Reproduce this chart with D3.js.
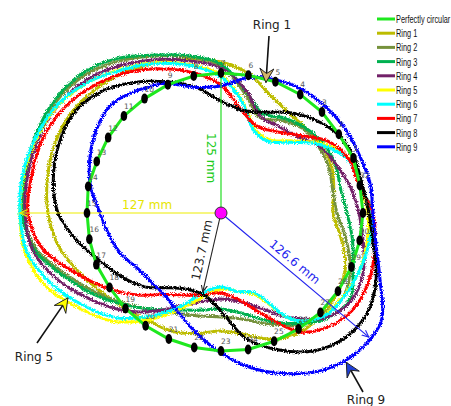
<!DOCTYPE html>
<html>
<head>
<meta charset="utf-8">
<script src="https://cdn.jsdelivr.net/npm/d3@7"></script>
<style>
body { margin: 0; background: #fff; }
text { font-family: "DejaVu Sans", Verdana, sans-serif; }
</style>
</head>
<body>
<div id="chart"></div>
<script>
var width = 451,
    height = 406;
var cx = 221, cy = 213;

// measuring angles (deg, counter-clockwise from the right)
var angles = [0, 11.25, 22.5, 33.75, 45, 56.25, 67.5, 78.75, 90, 101.25, 112.5, 123.75,
    135, 146.25, 157.5, 168.75, 180, 191.25, 202.5, 213.75, 225, 236.25, 247.5, 258.75,
    270, 281.25, 292.5, 303.75, 315, 326.25, 337.5, 348.75];
var pointLabels = [31, 32, 1, 2, 3, 4, 5, 6, 7, 8, 9, 10, 11, 12, 13, 14, 15, 16, 17, 18,
    19, 20, 21, 22, 23, 24, 25, 26, 27, 28, 29, 30];

// radius read at each angle
var perfect = [142, 141.6, 143.4, 141.7, 142.8, 142.6, 142.1, 140.5, 140, 139.7, 138.9, 137.6,
    137.3, 135.7, 134.5, 135.4, 134, 134.2, 134.9, 134, 135.1, 135.7, 136.4, 137.1,
    138.1, 139.1, 138.8, 139.6, 140.7, 140.7, 141.2, 141.4];
var ring1 = [112, 115, 120, 121, 120, 121, 128, 142, 151, 157, 163, 170, 176, 180, 180, 177,
    173, 166, 154, 143, 135, 130, 128, 123, 118, 124, 137, 143, 143, 141, 135, 122];
var ring2 = [116, 114, 117, 118, 118, 111, 103, 122, 147, 159, 170, 183, 194, 199, 199, 198,
    198, 188, 165, 146, 130, 117, 109, 105, 104, 108, 120, 135, 144, 148, 140, 127];
var ring3 = [126, 122, 124, 124, 120, 114, 108, 125, 149, 160, 171, 186, 197, 201, 201, 200,
    199, 190, 168, 149, 131, 116, 105, 99, 96, 102, 116, 133, 149, 155, 143, 134];
var ring4 = [138, 132, 125, 119, 108, 104, 104, 126, 145, 155, 166, 178, 189, 195, 197, 197,
    196, 192, 176, 156, 138, 118, 100, 90, 86, 90, 103, 126, 148, 157, 154, 145];
var ring5 = [147, 142, 140, 124, 102, 88, 90, 113, 138, 151, 163, 174, 186, 195, 199, 201,
    201, 200, 190, 171, 153, 128, 103, 85, 76, 80, 88, 128, 145, 148, 150, 149];
var ring6 = [151, 142, 138, 122, 100, 86, 88, 112, 136, 150, 162, 173, 186, 196, 200, 202,
    201, 198, 184, 166, 148, 124, 100, 80, 74, 80, 86, 128, 146, 149, 150, 151];
var ring7 = [152, 141, 139, 129, 110, 98, 94, 105, 128, 143, 156, 169, 180, 189, 193, 193,
    193, 182, 157, 136, 116, 98, 89, 83, 80, 88, 110, 143, 158, 164, 162, 157];
var ring8 = [148, 144, 144, 141, 132, 121, 109, 105, 112, 128, 142, 157, 171, 178, 176, 171,
    163, 146, 129, 117, 105, 90, 83, 84, 98, 128, 148, 166, 176, 177, 168, 155];
var ring9 = [152, 152, 150, 150, 149, 148, 144, 138, 127, 128, 140, 148, 154, 150, 142, 133,
    121, 114, 108, 100, 98, 100, 109, 123, 140, 158, 174, 188, 195, 193, 172, 158];

var seriesNames = ["Perfectly circular", "Ring 1", "Ring 2", "Ring 3", "Ring 4", "Ring 5",
    "Ring 6", "Ring 7", "Ring 8", "Ring 9"];
var seriesColors = ["#1ee81e", "#bcbc00", "#76923c", "#00b050", "#722068", "#ffff00",
    "#00ffff", "#ff0000", "#000000", "#0000ff"];
var rings = [ring1, ring2, ring3, ring4, ring5, ring6, ring7, ring8, ring9];

var svg = d3.select("#chart")
    .append("svg")
    .attr("width", width)
    .attr("height", height)

var defs = svg.append("defs")
var filt = defs.append("filter")
    .attr("id", "rough")
    .attr("filterUnits", "userSpaceOnUse")
    .attr("x", 0).attr("y", 0).attr("width", width).attr("height", height)
filt.append("feTurbulence")
    .attr("type", "fractalNoise")
    .attr("baseFrequency", 1.1)
    .attr("numOctaves", 2)
    .attr("seed", 4)
    .attr("result", "noise")
filt.append("feDisplacementMap")
    .attr("in", "SourceGraphic")
    .attr("in2", "noise")
    .attr("scale", 4.5)
    .attr("xChannelSelector", "R")
    .attr("yChannelSelector", "G")

function marker(id, color) {
    defs.append("marker")
        .attr("id", id)
        .attr("viewBox", "0 0 10 10")
        .attr("refX", 9).attr("refY", 5)
        .attr("markerWidth", 7).attr("markerHeight", 7)
        .attr("orient", "auto")
        .append("path")
        .attr("d", "M0,1 L9,5 L0,9")
        .attr("fill", "none")
        .attr("stroke", color)
        .attr("stroke-width", 1.4)
}
marker("mBlack", "#222")
marker("mBlue", "#2222ee")
marker("mYellow", "#e8e800")

var rScale = d3.scaleLinear().domain([0, 200]).range([0, 200])

function polar(a, r) {
    var t = a * Math.PI / 180;
    return [cx + rScale(r) * Math.cos(t), cy - rScale(r) * Math.sin(t)];
}

var radial = d3.lineRadial()
    .angle(function(d) { return (90 - d.a) * Math.PI / 180 })
    .radius(function(d) { return rScale(d.r) })
    .curve(d3.curveCatmullRomClosed.alpha(0.5))

var ringData = rings.map(function(vals, i) {
    return { name: seriesNames[i + 1], color: seriesColors[i + 1],
        pts: vals.map(function(v, k) { return { a: angles[k], r: v } }) };
})

svg.append("g")
    .attr("filter", "url(#rough)")
    .append("g")
    .attr("transform", "translate(" + cx + "," + cy + ")")
    .selectAll(".ring")
    .data(ringData)
    .enter()
    .append("path")
    .attr("class", "ring")
    .attr("d", function(d) { return radial(d.pts) })
    .attr("fill", "none")
    .attr("stroke", function(d) { return d.color })
    .attr("stroke-width", 3)

// perfectly circular reference, straight segments between measuring points
var perfPts = perfect.map(function(v, k) { return { a: angles[k], r: v, n: pointLabels[k] } })
svg.append("path")
    .attr("transform", "translate(" + cx + "," + cy + ")")
    .attr("d", radial.curve(d3.curveLinearClosed)(perfPts))
    .attr("fill", "none")
    .attr("stroke", seriesColors[0])
    .attr("stroke-width", 3)

// annotations
function dimLine(a, r, color, mk, w) {
    var p = polar(a, r);
    svg.append("line")
        .attr("x1", cx).attr("y1", cy)
        .attr("x2", p[0]).attr("y2", p[1])
        .attr("stroke", color)
        .attr("stroke-width", w)
        .attr("marker-end", mk ? "url(#" + mk + ")" : null)
    return p;
}
dimLine(90, perfect[8], "#22dd22", null, 1.2)
dimLine(180, ring5[16], "#eeee00", "mYellow", 1.2)
dimLine(257, 81, "#222", "mBlack", 1.1)
dimLine(320, 193, "#2222ee", "mBlue", 1.1)

svg.append("text")
    .attr("transform", "translate(207,133) rotate(90)")
    .attr("font-size", 12)
    .attr("fill", "#22cc22")
    .text("125 mm")
svg.append("text")
    .attr("x", 122).attr("y", 209)
    .attr("font-size", 12)
    .attr("fill", "#e6e600")
    .text("127 mm")
svg.append("text")
    .attr("transform", "translate(206,251) rotate(-78)")
    .attr("text-anchor", "middle")
    .attr("font-size", 12)
    .attr("fill", "#222")
    .text("123.7 mm")
svg.append("text")
    .attr("transform", "translate(292,265) rotate(40)")
    .attr("text-anchor", "middle")
    .attr("font-size", 12)
    .attr("fill", "#2222ee")
    .text("126.6 mm")

// measuring points
var dots = svg.append("g")
dots.selectAll(".pt")
    .data(perfPts)
    .enter()
    .append("ellipse")
    .attr("class", "pt")
    .attr("cx", function(d) { return polar(d.a, d.r)[0] })
    .attr("cy", function(d) { return polar(d.a, d.r)[1] })
    .attr("rx", 3.3)
    .attr("ry", 5)
    .attr("fill", "#000")
dots.selectAll(".lbl")
    .data(perfPts)
    .enter()
    .append("text")
    .attr("class", "lbl")
    .attr("x", function(d) { return polar(d.a, d.r)[0] })
    .attr("y", function(d) { return polar(d.a, d.r)[1] - 7 })
    .attr("font-size", 7.5)
    .attr("fill", "#555")
    .text(function(d) { return d.n })

svg.append("circle")
    .attr("cx", cx).attr("cy", cy)
    .attr("r", 6)
    .attr("fill", "#ff00ff")
    .attr("stroke", "#333")
    .attr("stroke-width", 1)

// callout arrows
function callout(x1, y1, x2, y2, fill) {
    svg.append("line")
        .attr("x1", x1).attr("y1", y1).attr("x2", x2).attr("y2", y2)
        .attr("stroke", "#111").attr("stroke-width", 1.6)
    var ang = Math.atan2(y2 - y1, x2 - x1), L = 14, W = 7, N = 9;
    var ux = Math.cos(ang), uy = Math.sin(ang);
    var pts = [
        [x2, y2],
        [x2 - L * ux - W * uy, y2 - L * uy + W * ux],
        [x2 - N * ux, y2 - N * uy],
        [x2 - L * ux + W * uy, y2 - L * uy - W * ux]
    ];
    svg.append("polygon")
        .attr("points", pts.map(function(p) { return p.join(",") }).join(" "))
        .attr("fill", fill)
        .attr("stroke", "#222")
        .attr("stroke-width", 1)
}
var r1 = polar(71, 138), r5 = polar(209, 175), r9 = polar(310, 195);
callout(269, 36, r1[0], r1[1], "#d2b46a")
callout(37, 343, r5[0], r5[1], "#ffff00")
callout(363, 392, r9[0], r9[1], "#1f3fd8")

svg.append("text").attr("x", 272).attr("y", 29).attr("text-anchor", "middle")
    .attr("font-size", 12).attr("fill", "#222").text("Ring 1")
svg.append("text").attr("x", 34).attr("y", 361).attr("text-anchor", "middle")
    .attr("font-size", 12).attr("fill", "#222").text("Ring 5")
svg.append("text").attr("x", 366).attr("y", 404).attr("text-anchor", "middle")
    .attr("font-size", 12).attr("fill", "#222").text("Ring 9")

// legend
var legend = svg.selectAll(".legend")
    .data(seriesNames)
    .enter()
    .append("g")
    .attr("class", "legend")
    .attr("transform", function(d, i) { return "translate(377," + (19 + i * 14.2) + ")" })
legend.append("line")
    .attr("x1", 0).attr("x2", 18)
    .attr("stroke", function(d, i) { return seriesColors[i] })
    .attr("stroke-width", 3)
legend.append("text")
    .attr("transform", "translate(19,4) scale(0.64,1)")
    .style("font-family", "'Liberation Sans', Arial, sans-serif")
    .attr("font-size", 11.5)
    .attr("fill", "#111")
    .text(function(d) { return d })
</script>
</body>
</html>
